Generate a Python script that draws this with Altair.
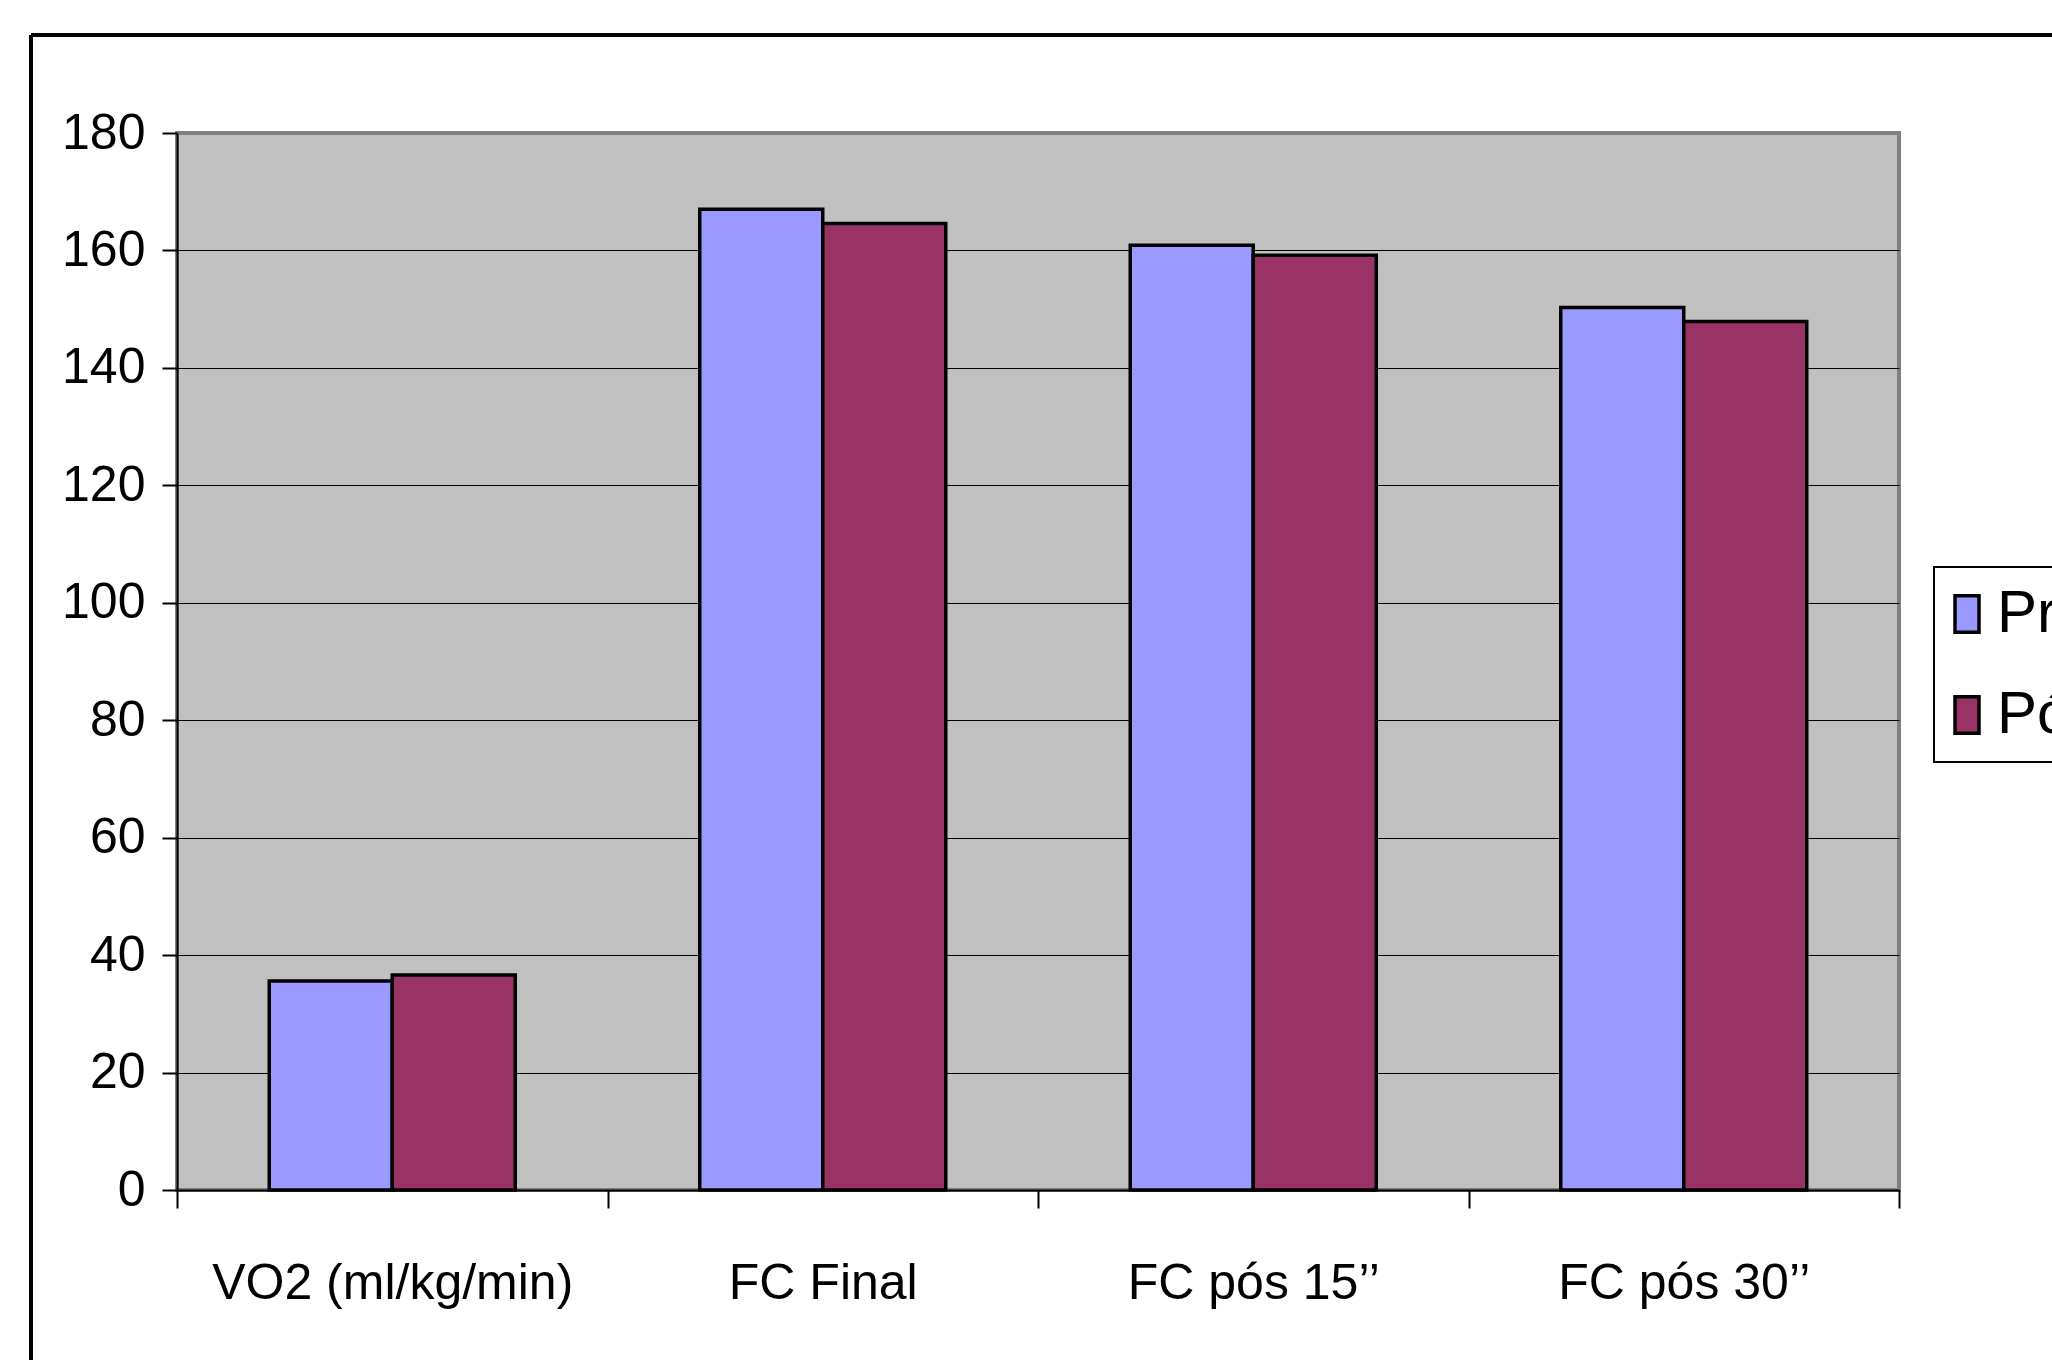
import altair as alt
import pandas as pd

categories = ["VO2 (ml/kg/min)", "FC Final", "FC pós 15’’", "FC pós 30’’"]
series = ["Pré", "Pós"]
pre_values = [35.6, 167.0, 160.9, 150.3]
pos_values = [36.6, 164.6, 159.2, 147.9]
y_ticks = [0, 20, 40, 60, 80, 100, 120, 140, 160, 180]
colors = ["#9999FF", "#993366"]

rows = []
for c, a, b in zip(categories, pre_values, pos_values):
    rows.append({"categoria": c, "serie": "Pré", "valor": a})
    rows.append({"categoria": c, "serie": "Pós", "valor": b})
df = pd.DataFrame(rows)

FONT = "Liberation Sans Narrow, Liberation Sans, Arial, sans-serif"
FS = 50

W, H = 1722, 1057
PL, PT = 177, 133

bars = alt.Chart(df).mark_bar(stroke="black", strokeWidth=3.5).encode(
    x=alt.X(
        "categoria:N",
        sort=categories,
        title=None,
        scale=alt.Scale(paddingInner=0, paddingOuter=0),
        axis=alt.Axis(
            tickBand="extent",
            labelAngle=0,
            labelFont=FONT,
            labelFontSize=FS,
            labelColor="black",
            labelLimit=0,
            labelPadding=50,
            tickSize=18,
            tickWidth=2,
            tickColor="black",
            domainColor="black",
            domainWidth=2,
            grid=False,
        ),
    ),
    xOffset=alt.XOffset(
        "serie:N",
        sort=series,
        scale=alt.Scale(paddingInner=0, paddingOuter=0.75),
    ),
    y=alt.Y(
        "valor:Q",
        title=None,
        scale=alt.Scale(domain=[0, 180], nice=False),
        axis=alt.Axis(
            values=y_ticks,
            labelFont=FONT,
            labelFontSize=FS,
            labelColor="black",
            labelPadding=17,
            tickSize=15,
            tickWidth=2,
            tickColor="black",
            domainColor="black",
            domainWidth=2,
            grid=True,
            gridColor={"condition": {"test": "datum.value === 180", "value": "#808080"}, "value": "black"},
            gridWidth=1.2,
        ),
    ),
    color=alt.Color(
        "serie:N",
        sort=series,
        scale=alt.Scale(domain=series, range=colors),
        legend=alt.Legend(
            title=None,
            orient="none",
            legendX=1757,
            legendY=434,
            padding=17,
            strokeColor="black",
            fillColor="white",
            symbolType="M-1,-1.52L1,-1.52L1,1.52L-1,1.52Z",
            symbolSize=576,
            symbolStrokeColor="black",
            symbolStrokeWidth=3.5,
            symbolOpacity=1,
            symbolOffset=-14,
            labelFont=FONT,
            labelFontSize=60,
            labelColor="black",
            labelOffset=0,
            labelLimit=0,
            rowPadding=41,
        ),
    ),
)

frame_top = alt.Chart(df).mark_rule(color="black", strokeWidth=3).encode(
    x=alt.value(31 - PL), x2=alt.value(2100 - PL), y=alt.value(35 - PT)
)
frame_left = alt.Chart(df).mark_rule(color="black", strokeWidth=3).encode(
    x=alt.value(31 - PL), y=alt.value(35 - PT), y2=alt.value(1400 - PT)
)

chart = (
    alt.layer(frame_top, frame_left, bars)
    .properties(
        width=W,
        height=H,
        autosize=alt.AutoSizeParams(type="none"),
        padding={"left": PL, "top": PT, "right": 2052 - PL - W, "bottom": 1360 - PT - H},
        background="white",
    )
    .configure_view(fill="#C0C0C0", stroke="#808080", strokeWidth=4)
    .configure_legend(strokeWidth=2)
)

chart.save("out.html", embed_options={"renderer": "svg", "actions": False})
